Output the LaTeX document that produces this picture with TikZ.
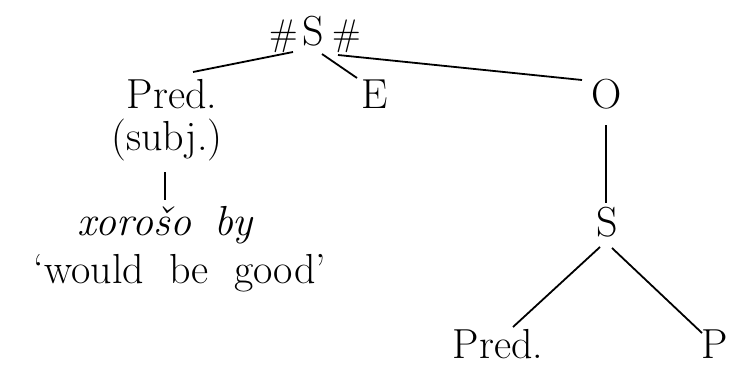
\documentclass[tikz,border=0pt]{standalone}
\begin{document}
\begin{tikzpicture}[x=1pt,y=-1pt,
  lab/.style={inner sep=0pt,anchor=base,font=\fontsize{42}{46}\selectfont},
  edge/.style={line width=1.8pt}]
\useasboundingbox[fill=white] (0,0) rectangle (731,367);
\node[lab] (hs) at (315,45) {{\fontsize{37}{40}\selectfont\#}\hspace{0.1em}S\hspace{0.2em}{\fontsize{37}{40}\selectfont\#}};
\node[lab] (pa) at (172,108) {Pred.};
\node[lab] (sj) at (167,150) {(subj.)};
\node[lab,font=\fontsize{42}{46}\selectfont\itshape] (xo) at (165,235) {xoro\v{s}o\hspace{0.2em} by};
\node[lab] (wg) at (180,283) {`would\hspace{0.3em} be\hspace{0.3em} good'};
\node[lab] (e) at (375,108) {E};
\node[lab] (o) at (607,108) {O};
\node[lab] (s) at (607,236) {S};
\node[lab] (pb) at (498,358) {Pred.};
\node[lab,anchor=base west] (p) at (701,358) {P};
\draw[edge] ([shift={(-22,7)}]hs.base) -- ([shift={(21,-36)}]pa.base);
\draw[edge] ([shift={(7,9)}]hs.base) -- ([shift={(-18,-30)}]e.base);
\draw[edge] ([shift={(23,10)}]hs.base) -- ([shift={(-25,-28)}]o.base);
\draw[edge] ([shift={(-1,17)}]o.base) -- ([shift={(-1,-33)}]s.base);
\draw[edge] ([shift={(-7,11)}]s.base) -- ([shift={(15,-31)}]pb.base);
\draw[edge] ([shift={(5,12)}]s.base) -- ([shift={(1,-25)}]p.base west);
\draw[edge] ([shift={(-2,22)}]sj.base) -- ([shift={(0,-35)}]xo.base);
\end{tikzpicture}
\end{document}
